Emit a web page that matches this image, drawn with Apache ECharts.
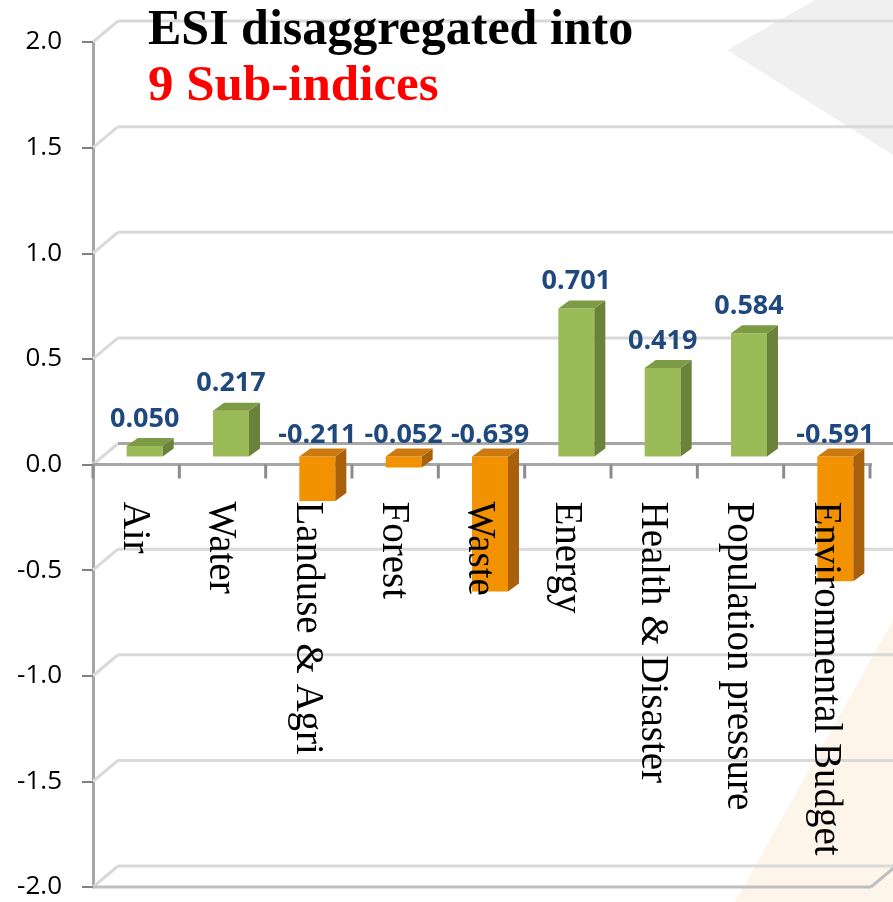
<!DOCTYPE html>
<html>
<head>
<meta charset="utf-8">
<script src="https://cdn.jsdelivr.net/npm/echarts@6/dist/echarts.min.js"></script>
<style>
  html, body { margin: 0; padding: 0; background: #fff; }
  #main { width: 893px; height: 902px; }
</style>
</head>
<body>
<div id="main"></div>
<script>
// sub-index names and scores
const categories = ['Air', 'Water', 'Landuse & Agri', 'Forest', 'Waste', 'Energy',
  'Health & Disaster', 'Population pressure', 'Environmental Budget'];
const values = [0.050, 0.217, -0.211, -0.052, -0.639, 0.701, 0.419, 0.584, -0.591];
const yTicks = [-2, -1.5, -1, -0.5, 0, 0.5, 1, 1.5, 2];

const chart = echarts.init(document.getElementById('main'));

// back wall offset of the fake 3d box
const wallDx = 25, wallDy = -21;

function renderWall(params, api) {
  const v = api.value(1);
  const p = api.coord([0, v]);
  const cs = params.coordSys;
  const left = cs.x, right = cs.x + cs.width;
  const y = p[1];
  const light = '#D9D9D9';
  const kids = [
    { type: 'line', shape: { x1: left, y1: y, x2: left + wallDx, y2: y + wallDy },
      style: { stroke: light, lineWidth: 3 } },
    { type: 'line', shape: { x1: left + wallDx, y1: y + wallDy, x2: 900, y2: y + wallDy },
      style: { stroke: v === 0 ? '#A6A6A6' : light, lineWidth: 3 } }
  ];
  if (v === yTicks[0]) {
    // floor front edge
    kids.push({ type: 'line', shape: { x1: left, y1: y, x2: right + 1, y2: y },
      style: { stroke: '#BFBFBF', lineWidth: 3 } });
    kids.push({ type: 'line', shape: { x1: right + 1, y1: y, x2: right + 1 + wallDx, y2: y + wallDy },
      style: { stroke: '#BFBFBF', lineWidth: 3 } });
  }
  if (v === 0) {
    // category axis line at zero, with ticks between the categories
    const band = api.size([1, 0])[0];
    kids.push({ type: 'line', shape: { x1: left, y1: y, x2: right + 2, y2: y },
      style: { stroke: '#A6A6A6', lineWidth: 3 } });
    for (let k = 0; k <= categories.length; k++) {
      const tx = left + k * band;
      kids.push({ type: 'line', shape: { x1: tx, y1: y, x2: tx, y2: y + 14 },
        style: { stroke: '#8C8C8C', lineWidth: 3 } });
    }
  }
  return { type: 'group', children: kids };
}

function renderBar(params, api) {
  const i = api.value(0), v = api.value(1);
  const base = api.coord([i, 0]), end = api.coord([i, v]);
  const c = base[0] + 8.5, half = 18;
  const yb = base[1] - 8, ye = end[1] - 8;
  const yTop = Math.min(yb, ye), yBot = Math.max(yb, ye);
  const dx = 11, dy = -8;
  const pos = v >= 0;
  const col = pos ? ['#9BBB59', '#6B823A', '#7D9A44'] : ['#F39200', '#A8610A', '#CC7A10'];
  const x0 = c - half, x1 = c + half;
  return {
    type: 'group',
    children: [
      { type: 'rect', shape: { x: x0, y: yTop, width: x1 - x0, height: yBot - yTop },
        style: { fill: col[0] } },
      { type: 'polygon', shape: { points: [[x1, yTop], [x1 + dx, yTop + dy], [x1 + dx, yBot + dy], [x1, yBot]] },
        style: { fill: col[1] } },
      { type: 'polygon', shape: { points: [[x0, yTop], [x0 + dx, yTop + dy], [x1 + dx, yTop + dy], [x1, yTop]] },
        style: { fill: col[2] } },
      { type: 'text', z2: 10,
        style: { text: v.toFixed(3), x: c, y: yTop + dy - (pos ? 19 : 13),
          align: 'center', verticalAlign: 'middle',
          font: 'bold 27px "Open Sans"', fill: '#1F497D' } },
      // category name, written downwards below the zero line
      { type: 'text', z2: 20, x: base[0] - 2, y: base[1] + 37, rotation: -Math.PI / 2,
        style: { text: categories[i], x: 0, y: 0, align: 'left', verticalAlign: 'middle',
          font: '39px "Liberation Serif"', fill: '#000' } }
    ]
  };
}

const option = {
  animation: false,
  backgroundColor: '#fff',
  graphic: [
    { type: 'polygon', z: -10, shape: { points: [[727, 50], [815, 0], [893, 0], [893, 155]] },
      style: { fill: '#F0F0F0' } },
    { type: 'polygon', z: -10, shape: { points: [[893, 620], [893, 902], [735, 902]] },
      style: { fill: '#FDF5EA' } }
  ],
  title: {
    text: 'ESI disaggregated into',
    subtext: '9 Sub-indices',
    left: 143,
    top: 1,
    itemGap: 5,
    textStyle: { fontFamily: 'Liberation Serif', fontWeight: 'bold', fontSize: 50, color: '#000' },
    subtextStyle: { fontFamily: 'Liberation Serif', fontWeight: 'bold', fontSize: 51, color: '#FF0000' }
  },
  grid: { left: 93, right: 23, top: 42, bottom: 15, containLabel: false, outerBoundsMode: 'none' },
  xAxis: {
    type: 'category',
    data: categories,
    axisLine: { show: false, onZero: true },
    axisTick: { show: false },
    axisLabel: { show: false },
    splitLine: { show: false }
  },
  yAxis: {
    type: 'value',
    min: -2, max: 2, interval: 0.5,
    axisLine: { show: true, lineStyle: { color: '#A6A6A6', width: 3 } },
    axisTick: { show: true, length: 11, lineStyle: { color: '#808080', width: 2 } },
    axisLabel: {
      margin: 31, fontFamily: 'Open Sans', fontSize: 26, color: '#000',
      formatter: v => v.toFixed(1)
    },
    splitLine: { show: false }
  },
  series: [
    {
      type: 'custom', name: 'wall', z: 1, silent: true,
      renderItem: renderWall,
      data: yTicks.map(v => [0, v])
    },
    {
      type: 'custom', name: 'ESI', z: 3,
      renderItem: renderBar,
      data: values.map((v, i) => [i, v])
    }
  ]
};

chart.setOption(option);
</script>
</body>
</html>
